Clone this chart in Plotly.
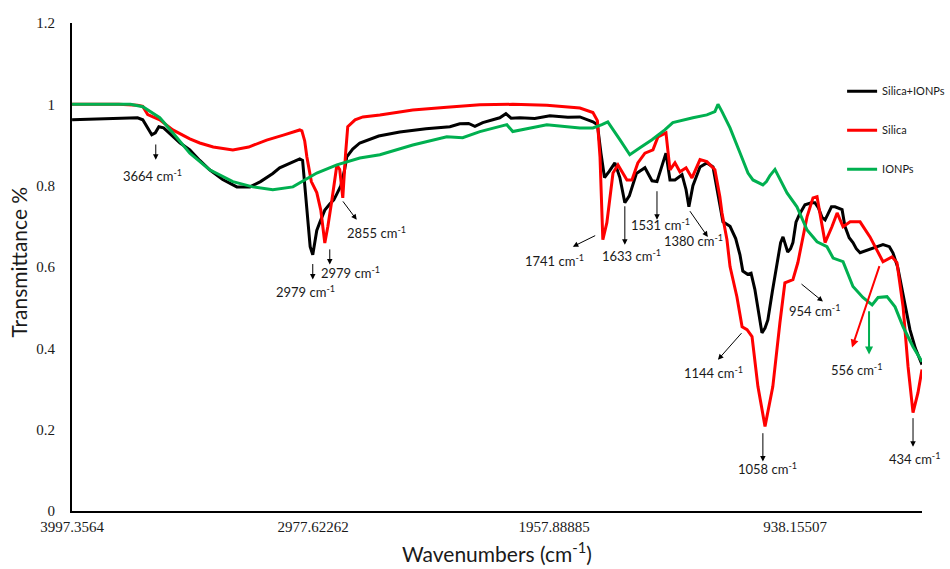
import plotly.graph_objects as go

# FTIR spectra: transmittance versus wavenumber (cm-1)
wn_silica_ionps = [3997, 3950, 3880, 3800, 3753, 3720, 3698, 3677, 3660, 3645, 3630, 3610,
                   3571, 3540, 3499, 3457, 3415, 3360, 3300, 3245, 3200, 3148, 3119, 3063,
                   3034, 3022, 3013, 3000, 2990, 2979, 2970, 2962, 2949, 2928, 2907, 2890,
                   2877, 2860, 2844, 2835, 2810, 2780, 2700, 2611, 2500, 2399, 2357, 2320,
                   2293, 2260, 2188, 2162, 2140, 2103, 2040, 1976, 1900, 1849, 1794, 1775,
                   1760, 1745, 1725, 1701, 1680, 1659, 1640, 1610, 1574, 1544, 1523, 1500,
                   1485, 1468, 1447, 1417, 1400, 1388, 1371, 1341, 1312, 1286, 1257, 1244,
                   1214, 1190, 1172, 1160, 1140, 1125, 1109, 1090, 1079, 1066, 1054, 1035,
                   1016, 1000, 990, 978, 970, 958, 948, 935, 920, 897, 870, 855, 840, 825,
                   812, 800, 785, 770, 755, 740, 728, 710, 694, 680, 664, 640, 613, 590,
                   567, 540, 525, 505, 495, 470, 453, 430, 410, 402]
tr_silica_ionps = [0.962, 0.963, 0.964, 0.966, 0.968, 0.967, 0.962, 0.940, 0.925, 0.930, 0.945, 0.942,
                   0.920, 0.905, 0.888, 0.862, 0.839, 0.815, 0.797, 0.797, 0.810, 0.830, 0.844, 0.858,
                   0.866, 0.862, 0.800, 0.700, 0.650, 0.630, 0.660, 0.690, 0.710, 0.740, 0.755, 0.765,
                   0.780, 0.800, 0.840, 0.871, 0.890, 0.905, 0.922, 0.932, 0.940, 0.945, 0.952, 0.953,
                   0.946, 0.955, 0.967, 0.977, 0.966, 0.967, 0.965, 0.972, 0.968, 0.969, 0.957, 0.950,
                   0.880, 0.820, 0.835, 0.856, 0.820, 0.758, 0.775, 0.830, 0.844, 0.812, 0.810, 0.850,
                   0.880, 0.814, 0.814, 0.827, 0.790, 0.748, 0.800, 0.846, 0.856, 0.846, 0.758, 0.711,
                   0.700, 0.670, 0.630, 0.590, 0.582, 0.585, 0.545, 0.480, 0.438, 0.450, 0.470, 0.540,
                   0.610, 0.660, 0.674, 0.650, 0.637, 0.645, 0.660, 0.710, 0.730, 0.753, 0.758, 0.758,
                   0.745, 0.722, 0.716, 0.730, 0.748, 0.748, 0.745, 0.741, 0.700, 0.672, 0.660, 0.645,
                   0.635, 0.640, 0.647, 0.652, 0.655, 0.650, 0.635, 0.600, 0.569, 0.500, 0.446, 0.400,
                   0.372, 0.360]

wn_silica = [3997, 3900, 3800, 3720, 3698, 3677, 3650, 3626, 3600, 3571, 3499, 3457, 3400,
             3317, 3250, 3174, 3100, 3034, 3025, 3013, 3004, 2985, 2962, 2945, 2928, 2915,
             2898, 2877, 2865, 2852, 2840, 2831, 2800, 2767, 2695, 2556, 2412, 2272, 2133,
             1989, 1849, 1794, 1775, 1764, 1752, 1735, 1709, 1688, 1650, 1629, 1604, 1574,
             1540, 1519, 1485, 1468, 1447, 1426, 1400, 1375, 1341, 1312, 1278, 1257, 1248,
             1227, 1214, 1185, 1163, 1142, 1121, 1096, 1066, 1033, 1003, 982, 948, 927, 888,
             863, 846, 834, 812, 783, 761, 736, 706, 664, 622, 567, 529, 508, 482, 461, 440,
             419, 402]
tr_silica = [1.000, 1.000, 1.000, 0.998, 0.995, 0.975, 0.968, 0.962, 0.950, 0.937, 0.915, 0.905, 0.895,
             0.888, 0.895, 0.912, 0.925, 0.937, 0.935, 0.910, 0.871, 0.810, 0.783, 0.740, 0.659, 0.700,
             0.765, 0.851, 0.840, 0.770, 0.880, 0.945, 0.962, 0.969, 0.974, 0.986, 0.993, 0.999, 1.000,
             0.998, 0.991, 0.980, 0.960, 0.871, 0.667, 0.709, 0.831, 0.851, 0.814, 0.814, 0.856, 0.880,
             0.888, 0.920, 0.930, 0.839, 0.856, 0.834, 0.844, 0.819, 0.864, 0.859, 0.839, 0.773, 0.733,
             0.667, 0.601, 0.527, 0.453, 0.446, 0.429, 0.306, 0.208, 0.306, 0.463, 0.561, 0.569, 0.611, 0.724,
             0.770, 0.773, 0.733, 0.660, 0.699, 0.733, 0.699, 0.711, 0.711, 0.674, 0.613, 0.625, 0.611, 0.502,
             0.355, 0.242, 0.291, 0.348]

wn_ionps = [3997, 3850, 3750, 3698, 3660, 3626, 3571, 3499, 3415, 3317, 3233, 3148, 3063,
            2962, 2877, 2780, 2695, 2556, 2412, 2345, 2272, 2158, 2133, 1989, 1849, 1794,
            1756, 1731, 1680, 1638, 1595, 1544, 1490, 1456, 1371, 1312, 1278, 1265, 1248,
            1214, 1172, 1138, 1117, 1092, 1075, 1060, 1045, 1024, 1003, 973, 931, 888, 846,
            804, 778, 736, 694, 652, 613, 588, 550, 516, 482, 440, 402]
tr_ionps = [1.000, 1.000, 1.000, 0.994, 0.980, 0.967, 0.930, 0.880, 0.839, 0.810, 0.797, 0.790, 0.797,
            0.831, 0.851, 0.868, 0.876, 0.900, 0.920, 0.918, 0.933, 0.950, 0.933, 0.950, 0.942, 0.942,
            0.950, 0.957, 0.913, 0.876, 0.893, 0.913, 0.937, 0.955, 0.967, 0.974, 0.982, 1.000, 0.982,
            0.942, 0.881, 0.831, 0.814, 0.807, 0.802, 0.810, 0.825, 0.840, 0.815, 0.782, 0.748, 0.691, 0.662,
            0.650, 0.622, 0.613, 0.552, 0.525, 0.507, 0.525, 0.527, 0.502, 0.453, 0.404, 0.367]

tick_vals = [3997.3564, 2977.62262, 1957.88885, 938.15507]
tick_text = ["3997.3564", "2977.62262", "1957.88885", "938.15507"]

# Peak labels: (text, x, y)
peak_labels = [
    ("3664 cm<sup>-1</sup>", 3656, 0.824),
    ("2979 cm<sup>-1</sup>", 3008, 0.539),
    ("2979 cm<sup>-1</sup>", 2818, 0.586),
    ("2855 cm<sup>-1</sup>", 2708, 0.684),
    ("1741 cm<sup>-1</sup>", 1955, 0.615),
    ("1633 cm<sup>-1</sup>", 1630, 0.628),
    ("1531 cm<sup>-1</sup>", 1510, 0.704),
    ("1380 cm<sup>-1</sup>", 1370, 0.664),
    ("1144 cm<sup>-1</sup>", 1286, 0.340),
    ("1058 cm<sup>-1</sup>", 1054, 0.104),
    ("954 cm<sup>-1</sup>", 855, 0.493),
    ("556 cm<sup>-1</sup>", 677, 0.348),
    ("434 cm<sup>-1</sup>", 432, 0.129),
]

# Pointer arrows: (tail x, tail y, head x, head y, colour, width)
pointer_arrows = [
    (3643, 0.905, 3643, 0.864, "black", 1),
    (2979, 0.611, 2979, 0.569, "black", 1),
    (2907, 0.647, 2907, 0.606, "black", 1),
    (2856, 0.765, 2793, 0.716, "black", 1),
    (1778, 0.679, 1879, 0.650, "black", 1),
    (1659, 0.753, 1659, 0.655, "black", 1),
    (1523, 0.790, 1523, 0.716, "black", 1),
    (1388, 0.741, 1308, 0.674, "black", 1),
    (1160, 0.441, 1265, 0.372, "black", 1),
    (1075, 0.195, 1075, 0.122, "black", 1),
    (918, 0.561, 821, 0.515, "black", 1),
    (580, 0.606, 698, 0.402, "#FF0000", 2),
    (626, 0.495, 626, 0.385, "#00B050", 2),
    (440, 0.232, 440, 0.158, "black", 1),
]

fig = go.Figure()
series = [
    ("Silica+IONPs", wn_silica_ionps, tr_silica_ionps, "#000000"),
    ("Silica", wn_silica, tr_silica, "#FF0000"),
    ("IONPs", wn_ionps, tr_ionps, "#00B050"),
]
for name, xs, ys, col in series:
    fig.add_trace(go.Scatter(x=xs, y=ys, name=name, mode="lines", legendgroup=name,
                             line=dict(color=col, width=3)))

annotations = []
for tx, ty, hx, hy, col, w in pointer_arrows:
    annotations.append(dict(x=hx, y=hy, ax=tx, ay=ty, xref="x", yref="y", axref="x", ayref="y",
                            text="", showarrow=True, arrowhead=2, arrowsize=1.1 if w == 1 else 0.8,
                            arrowwidth=w, arrowcolor=col))
for txt, x, y in peak_labels:
    annotations.append(dict(x=x, y=y, xref="x", yref="y", text=txt, showarrow=False,
                            font=dict(family="Lato", size=13, color="#1a1a1a")))

annotations.append(dict(x=0.5, y=-0.085, xref="paper", yref="paper", showarrow=False,
                        text="Wavenumbers (cm<sup>-1</sup>)", yanchor="middle",
                        font=dict(family="Lato", size=21, color="#1a1a1a")))
annotations.append(dict(x=-0.063, y=0.51, xref="paper", yref="paper", showarrow=False,
                        text="Transmittance %", textangle=-90, xanchor="center",
                        font=dict(family="Lato", size=21, color="#1a1a1a")))

fig.update_layout(
    width=950, height=569,
    margin=dict(l=72, r=28, t=23, b=58, autoexpand=False),
    paper_bgcolor="white", plot_bgcolor="white",
    showlegend=True,
    legend=dict(x=0.906, y=0.89, xanchor="left", yanchor="top", tracegroupgap=20,
                traceorder="grouped", bgcolor="rgba(0,0,0,0)",
                font=dict(family="Lato", size=11, color="#1a1a1a")),
    annotations=annotations,
)
fig.update_xaxes(range=[3997.3564, 402], tickvals=tick_vals, ticktext=tick_text,
                 showgrid=False, zeroline=False, showline=True, linecolor="black", linewidth=2,
                 ticks="", ticklabelstandoff=1,
                 tickfont=dict(family="Liberation Serif", size=15, color="#1a1a1a"))
fig.update_yaxes(range=[0, 1.2], dtick=0.2, tick0=0,
                 showgrid=False, zeroline=False, showline=True, linecolor="black", linewidth=2,
                 ticks="", ticklabelstandoff=12,
                 tickfont=dict(family="Liberation Serif", size=15, color="#1a1a1a"))

fig.write_html("out.html")
